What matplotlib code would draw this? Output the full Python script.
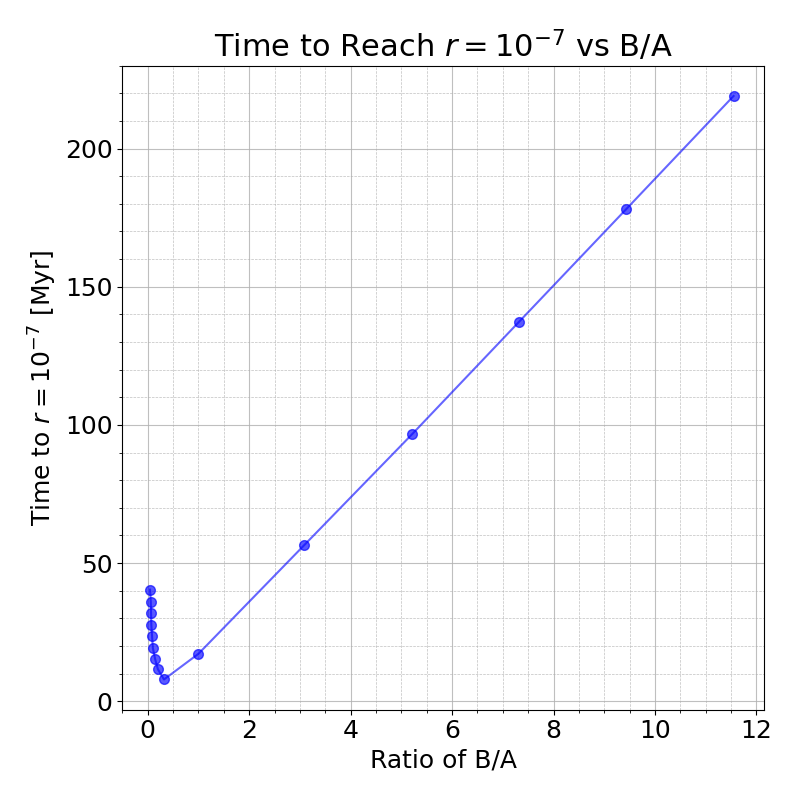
import matplotlib
matplotlib.use("Agg")
import matplotlib.pyplot as plt

ratio = [0.045, 0.06, 0.065, 0.07, 0.085, 0.1, 0.145, 0.2, 0.32, 1.0, 3.09, 5.21, 7.32, 9.43, 11.55]
time_myr = [40.4, 35.9, 31.9, 27.7, 23.5, 19.3, 15.3, 11.6, 7.9, 17.2, 56.6, 96.6, 137.3, 178.0, 219.0]

fig, ax = plt.subplots(figsize=(8, 8), dpi=100)
ax.plot(ratio, time_myr, '-', color='blue', alpha=0.6, lw=1.5)
ax.plot(ratio, time_myr, 'o', color='blue', alpha=0.65, ms=7)
ax.set_xlim(-0.5, 12.15)
ax.set_ylim(-3, 230)
ax.minorticks_on()
ax.grid(which='major', ls='-', color='#b0b0b0', lw=0.8, alpha=0.8)
ax.grid(which='minor', ls='--', color='#b0b0b0', lw=0.5, alpha=0.8)
ax.set_xlabel('Ratio of B/A', fontsize=18)
ax.set_ylabel(r'Time to $r = 10^{-7}$ [Myr]', fontsize=18)
ax.set_title(r'Time to Reach $r = 10^{-7}$ vs B/A', fontsize=22)
ax.tick_params(labelsize=18)
fig.subplots_adjust(left=0.153, right=0.955, top=0.918, bottom=0.113)
fig.savefig('out.png')
